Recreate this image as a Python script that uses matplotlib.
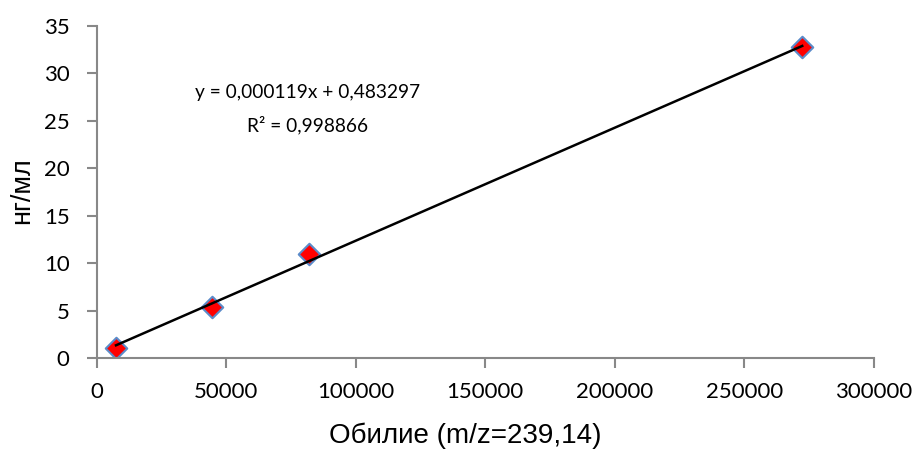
import matplotlib
matplotlib.use("Agg")
import matplotlib.pyplot as plt
import numpy as np

x_vals = [7450, 44400, 82000, 272400]
y_vals = [1.05, 5.37, 10.95, 32.8]
slope = 0.000119
intercept = 0.483297
eq_text = "y = 0,000119x + 0,483297"
r2_text = "R² = 0,998866"
x_ticks = [0, 50000, 100000, 150000, 200000, 250000, 300000]
y_ticks = [0, 5, 10, 15, 20, 25, 30, 35]
x_label = "Обилие (m/z=239,14)"
y_label = "нг/мл"

fig = plt.figure(figsize=(9.16, 4.51), dpi=100)
ax = fig.add_axes([96.7/916, 1-358.3/451, (873.7-96.7)/916, (358.3-26)/451])

xs = np.array([min(x_vals), max(x_vals)])
ax.plot(xs, slope*xs + intercept, color="black", lw=1.8, zorder=3)
ax.scatter(x_vals, y_vals, marker="D", s=120, facecolor="#ff0000",
           edgecolor="#5b8bc9", linewidth=1.5, zorder=2)

ax.set_xlim(0, 300000)
ax.set_ylim(0, 35)
ax.set_xticks(x_ticks)
ax.set_yticks(y_ticks)
ax.set_xticklabels([str(v) for v in x_ticks], fontfamily="Lato", fontsize=16)
ax.set_yticklabels([str(v) for v in y_ticks], fontfamily="Lato", fontsize=16)
for s in ["top", "right"]:
    ax.spines[s].set_visible(False)
for s in ["left", "bottom"]:
    ax.spines[s].set_color("#888888")
    ax.spines[s].set_linewidth(1.5)
ax.tick_params(axis="both", direction="out", length=7, width=1.5, color="#888888",
               labelcolor="black")
ax.tick_params(axis="x", pad=10)
ax.tick_params(axis="y", pad=12.5)

fig.text(465/916, 1-443/451, x_label, fontfamily="Liberation Sans", fontsize=20,
         ha="center", va="baseline")
fig.text(22.5/916, 1-191/451, y_label, fontfamily="Liberation Sans", fontsize=19.5,
         ha="center", va="center", rotation=90)

fig.text(308/916, 1-98/451, eq_text, fontfamily="Lato", fontsize=13.8,
         ha="center", va="baseline")
fig.text(308/916, 1-131/451, r2_text, fontfamily="Lato", fontsize=13.8,
         ha="center", va="baseline")

fig.savefig("out.png", dpi=100)
